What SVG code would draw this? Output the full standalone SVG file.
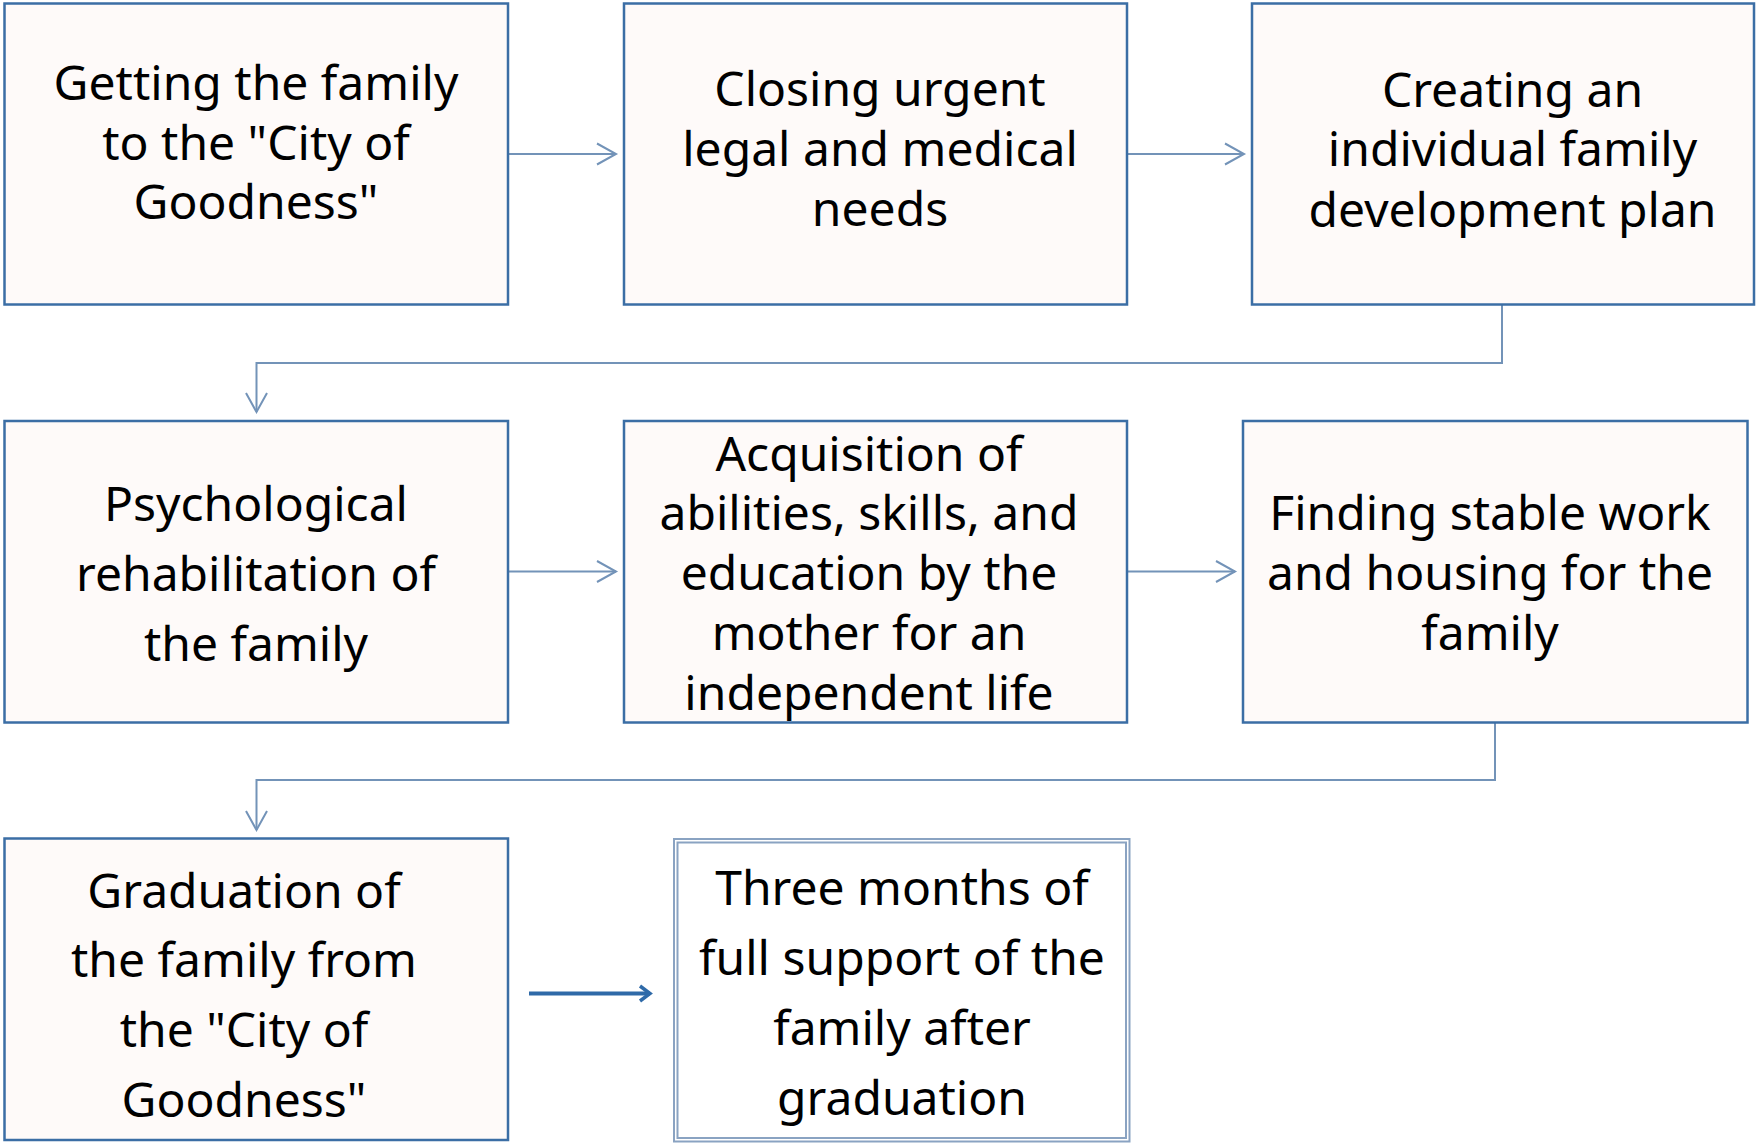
<svg xmlns="http://www.w3.org/2000/svg" width="1756" height="1143" viewBox="0 0 1756 1143">
<defs>
<style>
.box{fill:#fefaf9;stroke:#3b6ea5;stroke-width:2.5}
.box2{fill:#ffffff;stroke:#8aa3c2;stroke-width:2}
.t{font-family:"Noto Sans","Liberation Sans",sans-serif;font-size:48px;fill:#000;text-anchor:middle}
.c{fill:none;stroke:#7393b8;stroke-width:2}
.c2{fill:none;stroke:#2f6aa8;stroke-width:4}
</style>
<marker id="ah" markerUnits="userSpaceOnUse" markerWidth="24" markerHeight="26" refX="20" refY="12" orient="auto" viewBox="0 0 24 24">
<path d="M1,1.5 L20,12 L1,22.5" fill="none" stroke="#7393b8" stroke-width="2"/>
</marker>
<marker id="ah2" markerUnits="userSpaceOnUse" markerWidth="16" markerHeight="20" refX="12" refY="9" orient="auto" viewBox="0 0 16 18">
<path d="M2,1.5 L12,9 L2,16.5" fill="none" stroke="#2f6aa8" stroke-width="3.5"/>
</marker>
</defs>
<rect width="1756" height="1143" fill="#ffffff"/>
<g id="connectors">
<path class="c" d="M508,154 H616" marker-end="url(#ah)"/>
<path class="c" d="M1127,154 H1244" marker-end="url(#ah)"/>
<path class="c" d="M1502,304 V363 H256.5 V412" marker-end="url(#ah)"/>
<path class="c" d="M508,571.5 H616" marker-end="url(#ah)"/>
<path class="c" d="M1127,571.5 H1235" marker-end="url(#ah)"/>
<path class="c" d="M1495,722 V780 H256.5 V830" marker-end="url(#ah)"/>
<path class="c2" d="M529,993.5 H650" marker-end="url(#ah2)"/>
</g>
<g id="n1">
<rect class="box" x="4.5" y="3.5" width="503.5" height="301"/>
<text class="t" x="256" y="100">Getting the family</text>
<text class="t" x="256" y="159.5">to the "City of</text>
<text class="t" x="256" y="218.5">Goodness"</text>
</g>
<g id="n2">
<rect class="box" x="624" y="3.5" width="503" height="301"/>
<text class="t" x="880" y="105.5">Closing urgent</text>
<text class="t" x="880" y="165.5">legal and medical</text>
<text class="t" x="880" y="226">needs</text>
</g>
<g id="n3">
<rect class="box" x="1252" y="3.5" width="502" height="301"/>
<text class="t" x="1512.5" y="106.5">Creating an</text>
<text class="t" x="1512.5" y="166">individual family</text>
<text class="t" x="1512.5" y="226.5">development plan</text>
</g>
<g id="n4">
<rect class="box" x="4.5" y="421" width="503.5" height="301.5"/>
<text class="t" x="256" y="520.5">Psychological</text>
<text class="t" x="256" y="591">rehabilitation of</text>
<text class="t" x="256" y="660.5">the family</text>
</g>
<g id="n5">
<rect class="box" x="624" y="421" width="503" height="301.5"/>
<text class="t" x="869" y="470.5">Acquisition of</text>
<text class="t" x="869" y="530">abilities, skills, and</text>
<text class="t" x="869" y="590">education by the</text>
<text class="t" x="869" y="650">mother for an</text>
<text class="t" x="869" y="710">independent life</text>
</g>
<g id="n6">
<rect class="box" x="1243" y="421" width="504.5" height="301.5"/>
<text class="t" x="1490" y="529.5">Finding stable work</text>
<text class="t" x="1490" y="589.5">and housing for the</text>
<text class="t" x="1490" y="649.5">family</text>
</g>
<g id="n7">
<rect class="box" x="4.5" y="838.5" width="503.5" height="301.5"/>
<text class="t" x="244" y="907.5">Graduation of</text>
<text class="t" x="244" y="977">the family from</text>
<text class="t" x="244" y="1047">the "City of</text>
<text class="t" x="244" y="1116.5">Goodness"</text>
</g>
<g id="n8">
<rect class="box2" x="674" y="839" width="455.5" height="302.5"/>
<rect class="box2" x="677.5" y="842.5" width="448.5" height="295.5"/>
<text class="t" x="902" y="905">Three months of</text>
<text class="t" x="902" y="975">full support of the</text>
<text class="t" x="902" y="1045">family after</text>
<text class="t" x="902" y="1114.5">graduation</text>
</g>
</svg>
